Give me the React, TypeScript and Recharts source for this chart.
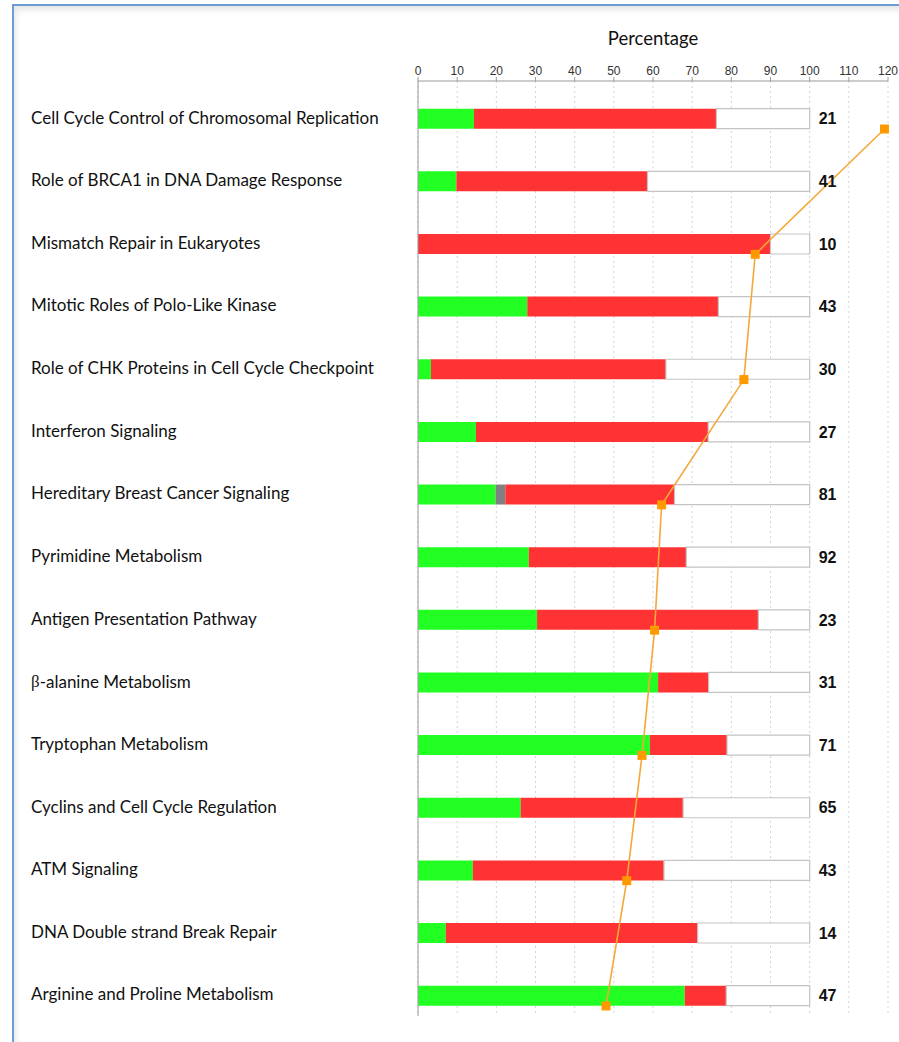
import { ComposedChart, Bar, Line, XAxis, YAxis, CartesianGrid, LabelList } from 'recharts';

const pathways = [
  'Cell Cycle Control of Chromosomal Replication',
  'Role of BRCA1 in DNA Damage Response',
  'Mismatch Repair in Eukaryotes',
  'Mitotic Roles of Polo-Like Kinase',
  'Role of CHK Proteins in Cell Cycle Checkpoint',
  'Interferon Signaling',
  'Hereditary Breast Cancer Signaling',
  'Pyrimidine Metabolism',
  'Antigen Presentation Pathway',
  'β-alanine Metabolism',
  'Tryptophan Metabolism',
  'Cyclins and Cell Cycle Regulation',
  'ATM Signaling',
  'DNA Double strand Break Repair',
  'Arginine and Proline Metabolism',
];

// molecules in each pathway (printed to the right of the bars)
const totals = [21, 41, 10, 43, 30, 27, 81, 92, 23, 31, 71, 65, 43, 14, 47];

// % of pathway molecules: green (down), grey (no change), red (up)
const downPct = [14.3, 9.8, 0, 27.9, 3.3, 14.8, 19.8, 28.3, 30.4, 61.3, 59.2, 26.2, 14.0, 7.1, 68.1];
const flatPct = [0, 0, 0, 0, 0, 0, 2.5, 0, 0, 0, 0, 0, 0, 0, 0];
const upPct = [61.9, 48.8, 90.0, 48.8, 60.0, 59.3, 43.2, 40.2, 56.5, 12.9, 19.7, 41.5, 48.8, 64.3, 10.6];

// orange line, read on the percentage scale (markers only on every other row)
const logP = [119.1, null, 86.1, null, 83.2, null, 62.2, null, 60.4, null, 57.2, null, 53.3, null, 48.0];

const xTicks = [0, 10, 20, 30, 40, 50, 60, 70, 80, 90, 100, 110, 120];

const rows = pathways.map((name, i) => ({
  name,
  total: totals[i],
  down: downPct[i],
  flat: flatPct[i],
  up: upPct[i],
  rest: +(100 - downPct[i] - flatPct[i] - upPct[i]).toFixed(1),
  logp: logP[i],
}));

const labelFont = 'Lato, "Open Sans", sans-serif';

function PathwayTick(props: any) {
  const { y, payload } = props;
  const text: string = payload.value;
  const beta = text.startsWith('β');
  return (
    <text x={31} y={y - 2} dominantBaseline="central" fontFamily={labelFont} fontSize={17} fill="#111">
      {beta ? (
        <>
          <tspan fontFamily='"Liberation Serif", serif'>β</tspan>
          <tspan>{text.slice(1)}</tspan>
        </>
      ) : (
        text
      )}
    </text>
  );
}

function SquareDot(props: any) {
  const { cx, cy, payload, index } = props;
  if (cx == null || cy == null || payload.logp == null) return <g key={`d-${index}`} />;
  return <rect key={`d-${index}`} x={cx - 4.5} y={cy - 4.5} width={9} height={9} fill="#ff9900" />;
}

export default function App() {
  return (
    <div style={{ position: 'absolute', left: 0, top: 0, width: 899, height: 1042, background: '#fff', overflow: 'hidden' }}>
      <div
        style={{
          position: 'absolute',
          left: 12,
          top: 4,
          width: 900,
          height: 1050,
          borderTop: '2px solid #6e9cd5',
          borderLeft: '2px solid #6e9cd5',
          boxShadow: 'inset 2px 4px 6px rgba(0,0,0,0.10)',
        }}
      />
      <div style={{ position: 'absolute', left: 0, top: 0 }}>
        <ComposedChart
          width={899}
          height={1042}
          data={rows}
          layout="vertical"
          margin={{ top: 51, right: 11, bottom: 26, left: 18 }}
        >
          <CartesianGrid horizontal={false} stroke="#d4d4d4" strokeDasharray="2 3" />
          <XAxis
            type="number"
            orientation="top"
            domain={[0, 120]}
            ticks={xTicks}
            interval={0}
            axisLine={{ stroke: '#9a9a9a' }}
            tickLine={{ stroke: '#9a9a9a' }}
            tickSize={4}
            tick={{ fill: '#333', fontSize: 12, fontFamily: '"Liberation Sans", Arial' }}
            label={{
              value: 'Percentage',
              position: 'top',
              offset: 6,
              style: { fontFamily: labelFont, fontSize: 18.5, fill: '#111' },
            }}
          />
          <YAxis
            type="category"
            dataKey="name"
            width={400}
            padding={{ top: 6.7, bottom: -11.3 }}
            axisLine={{ stroke: '#9a9a9a' }}
            tickLine={false}
            tick={<PathwayTick />}
            interval={0}
          />
          <YAxis yAxisId="line" type="category" dataKey="name" hide padding={{ top: 16.7, bottom: -21.3 }} />
          <YAxis
            yAxisId="right"
            orientation="right"
            type="category"
            dataKey="name"
            width={0}
            tick={false}
            tickLine={false}
            axisLine={{ stroke: '#a8a8a8' }}
          />
          <Bar dataKey="down" stackId="s" fill="#22ff22" barSize={20} isAnimationActive={false} />
          <Bar dataKey="flat" stackId="s" fill="#808080" barSize={20} isAnimationActive={false} />
          <Bar dataKey="up" stackId="s" fill="#ff3333" barSize={20} isAnimationActive={false} />
          <Bar dataKey="rest" stackId="s" fill="#ffffff" stroke="#c4c4c4" strokeWidth={1.2} barSize={20} isAnimationActive={false}>
            <LabelList
              dataKey="total"
              position="right"
              offset={9}
              fill="#111"
              fontSize={16}
              fontWeight="bold"
              fontFamily='"Liberation Sans", Arial'
            />
          </Bar>
          <Line
            yAxisId="line"
            dataKey="logp"
            type="linear"
            stroke="#f5a83a"
            strokeWidth={1.6}
            connectNulls
            dot={<SquareDot />}
            activeDot={false}
            isAnimationActive={false}
          />
        </ComposedChart>
      </div>
    </div>
  );
}
